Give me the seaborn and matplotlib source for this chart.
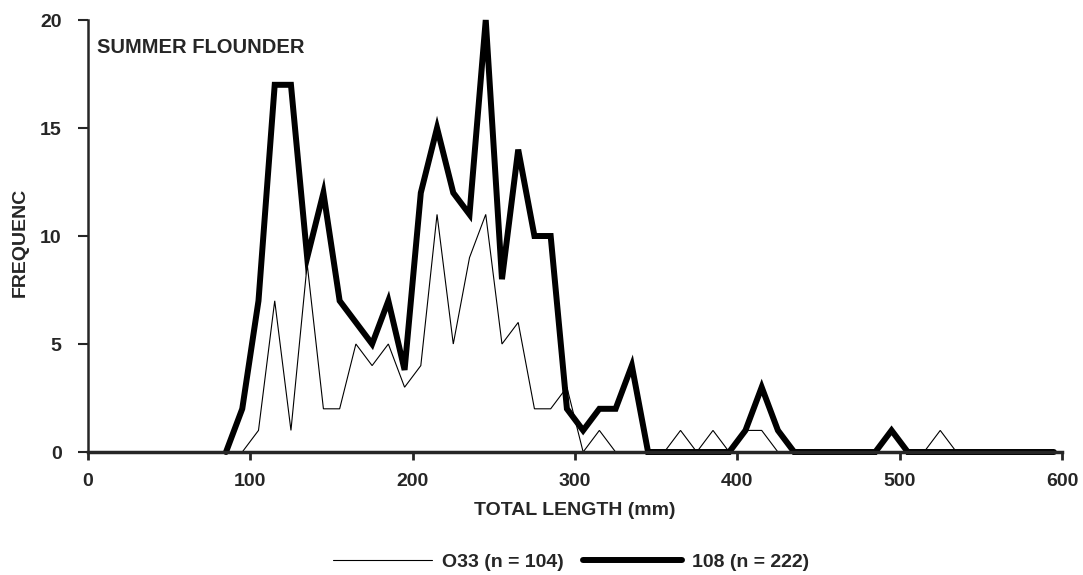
import matplotlib
matplotlib.use("Agg")
import matplotlib.pyplot as plt
from matplotlib.lines import Line2D
import seaborn as sns
import pandas as pd

# ---- data ----
lengths = [85, 95, 105, 115, 125, 135, 145, 155, 165, 175, 185, 195,
           205, 215, 225, 235, 245, 255, 265, 275, 285, 295,
           305, 315, 325, 335, 345, 355, 365, 375, 385, 395,
           405, 415, 425, 435, 445, 455, 465, 475, 485, 495,
           505, 515, 525, 535, 545, 555, 565, 575, 585, 595]
freq_108 = [0, 2, 7, 17, 17, 9, 12, 7, 6, 5, 7, 3.8,
            12, 15, 12, 11, 20, 8, 14, 10, 10, 2,
            1, 2, 2, 4, 0, 0, 0, 0, 0, 0,
            1, 3, 1, 0, 0, 0, 0, 0, 0, 1,
            0, 0, 0, 0, 0, 0, 0, 0, 0, 0]
freq_o33 = [0, 0, 1, 7, 1, 8.7, 2, 2, 5, 4, 5, 3,
            4, 11, 5, 9, 11, 5, 6, 2, 2, 3,
            0, 1, 0, 0, 0, 0, 1, 0, 1, 0,
            1, 1, 0, 0, 0, 0, 0, 0, 0, 0,
            0, 0, 1, 0, 0, 0, 0, 0, 0, 0]
series_labels = ["O33 (n = 104)", "108 (n = 222)"]
x_ticks = [0, 100, 200, 300, 400, 500, 600]
y_ticks = [0, 5, 10, 15, 20]
title_text = "SUMMER FLOUNDER"
x_label = "TOTAL LENGTH (mm)"
y_label = "FREQUENC"

df_o33 = pd.DataFrame({"length": lengths, "freq": freq_o33})
df_108 = pd.DataFrame({"length": lengths, "freq": freq_108})

sns.set_style("ticks")
plt.rcParams["font.family"] = ["Liberation Sans", "DejaVu Sans"]
plt.rcParams["font.weight"] = "bold"

FS = 14

fig = plt.figure(figsize=(10.83, 5.75), dpi=100)
ax = fig.add_axes([0.0813, 0.2139, 0.8993, 0.7513])

thin_lw = 0.8
thick_lw = 4.3
sns.lineplot(data=df_o33, x="length", y="freq", ax=ax, color="black",
             linewidth=thin_lw, legend=False)
sns.lineplot(data=df_108, x="length", y="freq", ax=ax, color="black",
             linewidth=thick_lw, legend=False)
for ln in ax.lines:
    ln.set_clip_on(False)
    ln.set_solid_joinstyle("miter")

ax.set_xlim(0, 600)
ax.set_ylim(0, 20)
ax.set_xticks(x_ticks)
ax.set_yticks(y_ticks)
ax.tick_params(axis="x", length=6, width=2, pad=9, labelsize=FS)
ax.tick_params(axis="y", length=7, width=1.5, pad=12, labelsize=FS)
for lab in ax.get_xticklabels() + ax.get_yticklabels():
    lab.set_fontweight("bold")

sns.despine(ax=ax)
ax.spines["bottom"].set_linewidth(2.5)
ax.spines["left"].set_linewidth(1.8)

ax.set_xlabel(x_label, fontsize=FS, fontweight="bold")
ax.set_ylabel(y_label, fontsize=FS, fontweight="bold")
ax.xaxis.set_label_coords(0.5, -0.1157)
ax.yaxis.set_label_coords(-0.0606, 0.486)

ax.text(0.0092, 0.9375, title_text, transform=ax.transAxes, fontsize=14.5,
        fontweight="bold", ha="left", va="center")

handles = [Line2D([0], [0], color="black", linewidth=thin_lw),
           Line2D([0], [0], color="black", linewidth=thick_lw)]
fig.legend(handles, series_labels, loc="center", bbox_to_anchor=(0.527, 0.0226),
           ncol=2, frameon=False, handlelength=5.1,
           handletextpad=0.5, columnspacing=1.0, prop={"weight": "bold", "size": FS})

fig.savefig("out.png", dpi=100, facecolor="white")
